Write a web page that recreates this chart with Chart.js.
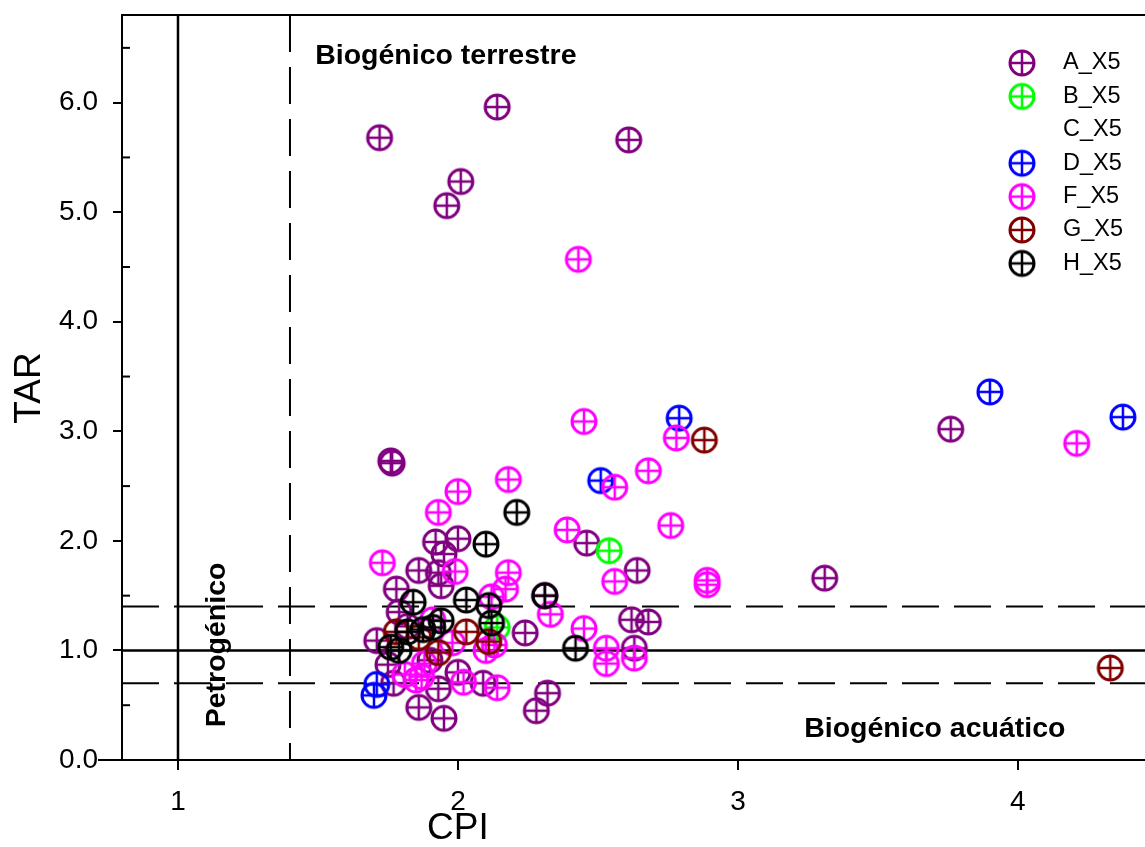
<!DOCTYPE html>
<html>
<head>
<meta charset="utf-8">
<script src="https://cdn.jsdelivr.net/npm/chart.js@4.4.1/dist/chart.umd.min.js"></script>
<style>
  html, body { margin: 0; padding: 0; background: #fff; overflow: hidden; }
  #wrap { width: 1145px; height: 847px; }
  canvas { display: block; }
</style>
</head>
<body>
<div id="wrap"><canvas id="grafico" width="1145" height="847"></canvas></div>
<script>
// datos (CPI vs TAR)
const seriesNames = ['A_X5', 'B_X5', 'C_X5', 'D_X5', 'F_X5', 'G_X5', 'H_X5'];
const seriesColors = ['#800080', '#00ff00', '#ffff00', '#0000ff', '#ff00ff', '#800000', '#000000'];

const aX = [1.72, 2.14, 2.61, 2.01, 1.96, 1.76, 1.765, 3.76, 3.31, 1.92, 2.00, 1.95, 1.86, 1.93, 1.94, 1.78, 2.46, 2.64, 2.31, 2.62, 2.68, 2.63, 2.24, 1.71, 1.75, 1.77, 1.86, 1.95, 2.32, 2.28, 1.93, 2.00, 2.09, 1.79, 1.90, 1.82];
const aY = [5.68, 5.96, 5.66, 5.28, 5.06, 2.73, 2.71, 3.02, 1.66, 1.99, 2.02, 1.88, 1.73, 1.71, 1.59, 1.56, 1.98, 1.73, 1.50, 1.28, 1.26, 1.02, 1.16, 1.09, 0.87, 0.70, 0.48, 0.38, 0.61, 0.45, 0.65, 0.80, 0.70, 1.35, 0.91, 1.22];
const bX = [2.54, 2.14];
const bY = [1.91, 1.21];
const cX = [];
const cY = [];
const dX = [2.79, 3.90, 4.375, 2.51, 1.71, 1.70];
const dY = [3.12, 3.36, 3.13, 2.55, 0.69, 0.59];
const fX = [2.43, 2.45, 2.78, 2.68, 2.56, 4.21, 2.18, 2.00, 1.93, 2.39, 2.76, 1.73, 1.99, 2.18, 2.17, 2.56, 2.89, 2.89, 2.33, 2.45, 2.53, 2.53, 2.63, 2.14, 2.02, 2.13, 2.12, 1.91, 1.98, 1.81, 1.85, 1.87, 2.10, 1.88];
const fY = [4.57, 3.09, 2.94, 2.64, 2.49, 2.89, 2.56, 2.45, 2.26, 2.10, 2.14, 1.80, 1.72, 1.71, 1.56, 1.63, 1.64, 1.60, 1.33, 1.20, 1.02, 0.88, 0.93, 0.66, 0.71, 1.05, 1.49, 1.28, 1.07, 0.78, 0.73, 0.76, 1.00, 0.88];
const gX = [2.88, 4.33, 1.78, 2.03, 1.93, 2.11, 1.86];
const gY = [2.92, 0.84, 1.17, 1.17, 0.98, 1.08, 1.12];
const hX = [2.21, 2.10, 1.84, 2.03, 2.11, 2.31, 2.42, 2.12, 1.94, 1.875, 1.82, 1.76, 1.79, 1.91];
const hY = [2.26, 1.97, 1.44, 1.46, 1.41, 1.50, 1.02, 1.25, 1.27, 1.19, 1.17, 1.03, 1.00, 1.21];

const seriesX = [aX, bX, cX, dX, fX, gX, hX];
const seriesY = [aY, bY, cY, dY, fY, gY, hY];

const xTicks = [1, 2, 3, 4];
const yTicks = [0, 1, 2, 3, 4, 5, 6];
const yMinorTicks = [0.5, 1.5, 2.5, 3.5, 4.5, 5.5, 6.5];

// líneas de referencia
const solidX = [1.0];
const dashedX = [1.4];
const solidY = [1.0];
const dashedY = [1.4, 0.7];

const FONT = "'Liberation Sans', Arial, sans-serif";

// marcador: círculo con cruz
function marcador(color) {
    const c = document.createElement('canvas');
    c.width = 30; c.height = 30;
    const g = c.getContext('2d');
    g.strokeStyle = color;
    g.lineWidth = 3;
    g.beginPath();
    g.arc(15, 15, 12, 0, Math.PI * 2);
    g.stroke();
    g.lineWidth = 2.5;
    g.beginPath();
    g.moveTo(3.5, 15); g.lineTo(26.5, 15);
    g.moveTo(15, 3.5); g.lineTo(15, 26.5);
    g.stroke();
    return c;
}
const marcadores = seriesColors.map(marcador);

const datasets = seriesNames.map((name, i) => ({
    label: name,
    data: seriesX[i].map((x, j) => ({ x: x, y: seriesY[i][j] })),
    pointStyle: marcadores[i],
    pointRadius: 13,
    pointHoverRadius: 13,
    borderColor: seriesColors[i],
    backgroundColor: seriesColors[i],
    order: seriesNames.length - i
}));

const lineasPlugin = {
    id: 'lineas',
    beforeDatasetsDraw(chart) {
        const { ctx, chartArea: a, scales: { x, y } } = chart;
        ctx.save();
        ctx.strokeStyle = '#000';
        ctx.lineWidth = 2.5;
        ctx.setLineDash([]);
        solidX.forEach(v => { const p = x.getPixelForValue(v); ctx.beginPath(); ctx.moveTo(p, a.top); ctx.lineTo(p, a.bottom); ctx.stroke(); });
        solidY.forEach(v => { const p = y.getPixelForValue(v); ctx.beginPath(); ctx.moveTo(a.left, p); ctx.lineTo(a.right, p); ctx.stroke(); });
        ctx.lineWidth = 2;
        ctx.setLineDash([37, 15]);
        dashedX.forEach(v => { const p = x.getPixelForValue(v); ctx.beginPath(); ctx.moveTo(p, a.top); ctx.lineTo(p, a.bottom); ctx.stroke(); });
        dashedY.forEach(v => { const p = y.getPixelForValue(v); ctx.beginPath(); ctx.moveTo(a.left, p); ctx.lineTo(a.right, p); ctx.stroke(); });
        ctx.setLineDash([]);

        // textos de las zonas
        ctx.fillStyle = '#000';
        ctx.font = 'bold 28.5px ' + FONT;
        ctx.textBaseline = 'middle';
        ctx.textAlign = 'left';
        ctx.fillText('Biogénico terrestre', x.getPixelForValue(1.49), y.getPixelForValue(6.42));
        ctx.textAlign = 'right';
        ctx.fillText('Biogénico acuático', x.getPixelForValue(4.17), y.getPixelForValue(0.28));
        ctx.translate(x.getPixelForValue(1.14), y.getPixelForValue(1.05));
        ctx.rotate(-Math.PI / 2);
        ctx.textAlign = 'center';
        ctx.fillText('Petrogénico', 0, 0);
        ctx.restore();
    },
    afterDraw(chart) {
        const { ctx, chartArea: a, scales: { x, y } } = chart;
        ctx.save();
        ctx.strokeStyle = '#000';
        ctx.lineWidth = 2;
        // marco superior y eje inferior
        ctx.beginPath();
        ctx.moveTo(a.left, a.top); ctx.lineTo(a.right, a.top);
        ctx.moveTo(98, a.bottom); ctx.lineTo(a.right, a.bottom);
        ctx.stroke();
        // ticks menores hacia dentro
        yMinorTicks.forEach(v => {
            const p = y.getPixelForValue(v);
            ctx.beginPath(); ctx.moveTo(a.left, p); ctx.lineTo(a.left + 8, p); ctx.stroke();
        });
        // títulos de ejes
        ctx.fillStyle = '#000';
        ctx.font = '37px ' + FONT;
        ctx.textAlign = 'center';
        ctx.textBaseline = 'middle';
        ctx.fillText('CPI', x.getPixelForValue(2), 829);
        ctx.save();
        ctx.translate(30, 388);
        ctx.rotate(-Math.PI / 2);
        ctx.fillText('TAR', 0, 0);
        ctx.restore();
        // leyenda
        ctx.font = '23.5px ' + FONT;
        ctx.textAlign = 'left';
        ctx.textBaseline = 'middle';
        seriesNames.forEach((name, i) => {
            const yy = 63 + i * 33.4;
            if (seriesX[i].length) ctx.drawImage(marcadores[i], 1022 - 15, yy - 15);
            ctx.fillText(name, 1063, yy);
        });
        ctx.restore();
    }
};

new Chart(document.getElementById('grafico'), {
    type: 'scatter',
    data: { datasets: datasets },
    options: {
        responsive: false,
        animation: false,
        layout: { autoPadding: false, padding: { top: 15, right: 0, left: 0, bottom: 0 } },
        plugins: { legend: { display: false }, tooltip: { enabled: false } },
        scales: {
            x: {
                type: 'linear',
                min: 0.8,
                max: 4.454,
                afterFit: s => { s.height = 87; s.paddingLeft = 0; s.paddingRight = 0; },
                afterBuildTicks: s => { s.ticks = xTicks.map(v => ({ value: v })); },
                grid: { drawOnChartArea: false, drawTicks: true, tickLength: 10, color: '#000', lineWidth: 2 },
                border: { display: true, color: '#000', width: 2 },
                ticks: { color: '#000', font: { family: FONT, size: 28 }, padding: 15, callback: v => String(v) }
            },
            y: {
                type: 'linear',
                min: 0,
                max: 6.8,
                afterFit: s => { s.width = 122; s.paddingTop = 0; s.paddingBottom = 0; },
                afterBuildTicks: s => { s.ticks = yTicks.map(v => ({ value: v })); },
                grid: { drawOnChartArea: false, drawTicks: true, tickLength: 9, color: '#000', lineWidth: 2 },
                border: { display: true, color: '#000', width: 2 },
                ticks: { color: '#000', font: { family: FONT, size: 28 }, padding: 15, callback: v => v.toFixed(1) }
            }
        }
    },
    plugins: [lineasPlugin]
});
</script>
</body>
</html>
